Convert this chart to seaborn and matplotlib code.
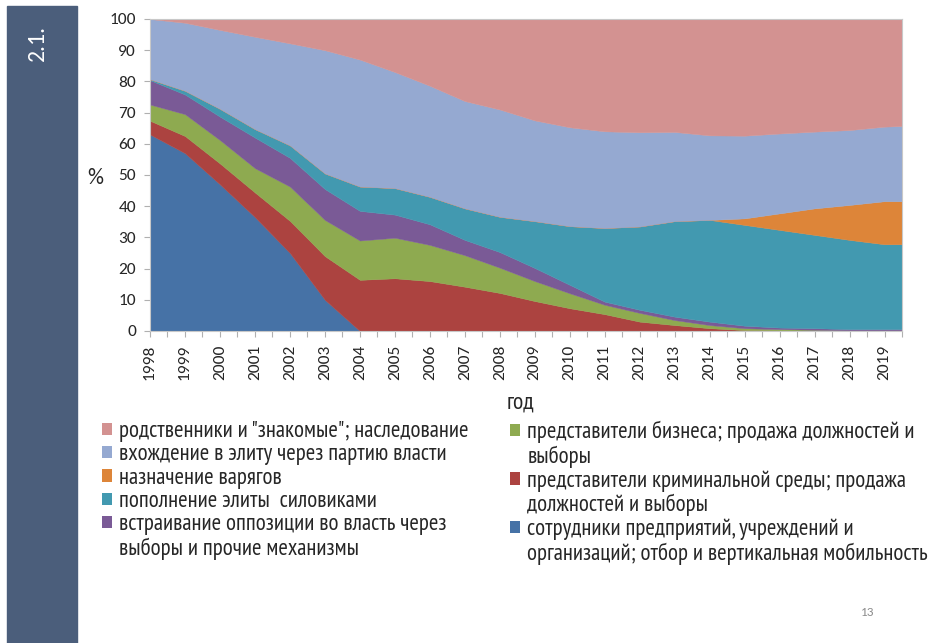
import matplotlib
matplotlib.use("Agg")
import matplotlib.pyplot as plt
from matplotlib.patches import Patch, Rectangle
import pandas as pd
import seaborn as sns

# Years (last point is the mid-2019 edge of the chart)
YEARS = [1998, 1999, 2000, 2001, 2002, 2003, 2004, 2005, 2006, 2007, 2008,
         2009, 2010, 2011, 2012, 2013, 2014, 2015, 2016, 2017, 2018, 2019, 2019.5]

# Shares of each recruitment channel, %, bottom layer first
EMPLOYEES = [63.0, 57.0, 47.0, 36.5, 25.0, 10.0, 0, 0, 0, 0, 0, 0,
             0, 0, 0, 0, 0, 0, 0, 0, 0, 0, 0]
CRIMINAL = [4.4, 5.5, 6.7, 7.9, 10.3, 14.0, 16.4, 16.9, 16.0, 14.2, 12.2, 9.6,
            7.3, 5.4, 3.0, 1.9, 0.9, 0.3, 0.2, 0.1, 0, 0, 0]
BUSINESS = [5.2, 7.0, 7.5, 7.8, 11.0, 11.6, 12.6, 13.0, 11.6, 10.1, 8.1, 6.4,
            4.8, 3.0, 2.8, 1.6, 1.0, 0.6, 0.4, 0.3, 0.2, 0.2, 0.2]
OPPOSITION = [7.8, 6.3, 7.5, 9.8, 9.2, 9.9, 9.5, 7.4, 6.6, 4.9, 5.0, 4.2,
              2.7, 1.0, 1.0, 1.1, 1.1, 0.8, 0.5, 0.5, 0.4, 0.4, 0.4]
SILOVIKI = [0.3, 1.2, 2.5, 2.7, 4.0, 5.0, 7.8, 8.5, 8.8, 10.1, 11.3, 15.0,
            18.8, 23.6, 26.7, 30.6, 32.6, 32.3, 31.3, 29.9, 28.6, 27.2, 27.2]
VARYAGS = [0, 0, 0, 0, 0, 0, 0, 0, 0, 0, 0, 0,
           0, 0, 0, 0, 0, 2.1, 5.3, 8.5, 11.2, 13.8, 13.8]
PARTY = [19.3, 21.8, 25.3, 29.6, 32.7, 39.5, 40.7, 37.2, 35.6, 34.4, 34.4, 32.3,
         31.7, 31.0, 30.2, 28.6, 27.1, 26.5, 25.6, 24.6, 24.0, 23.9, 24.1]
RELATIVES = [0, 1.2, 3.5, 5.7, 7.8, 10.0, 13.0, 17.0, 21.4, 26.3, 29.0, 32.5,
             34.7, 36.0, 36.3, 36.2, 37.3, 37.4, 36.7, 36.1, 35.6, 34.5, 34.3]

SERIES = ["employees", "criminal", "business", "opposition",
          "siloviki", "varyags", "party", "relatives"]
COLORS = {
    "employees": "#4672A6",
    "criminal": "#AC4340",
    "business": "#8EAA50",
    "opposition": "#7A5A96",
    "siloviki": "#4299B0",
    "varyags": "#DD8539",
    "party": "#95A9D1",
    "relatives": "#D39291",
}
# legend lines: (series key or None for a continuation line, text)
LEFT_LEGEND = [
    ("relatives", 'родственники и "знакомые"; наследование'),
    ("party", "вхождение в элиту через партию власти"),
    ("varyags", "назначение варягов"),
    ("siloviki", "пополнение элиты  силовиками"),
    ("opposition", "встраивание оппозиции во власть через"),
    (None, "выборы и прочие механизмы"),
]
RIGHT_LEGEND = [
    ("business", "представители бизнеса; продажа должностей и"),
    (None, "выборы"),
    ("criminal", "представители криминальной среды; продажа"),
    (None, "должностей и выборы"),
    ("employees", "сотрудники предприятий, учреждений и"),
    (None, "организаций; отбор и вертикальная мобильность"),
]

df = pd.DataFrame({
    "employees": EMPLOYEES, "criminal": CRIMINAL, "business": BUSINESS,
    "opposition": OPPOSITION, "siloviki": SILOVIKI, "varyags": VARYAGS,
    "party": PARTY, "relatives": RELATIVES,
}, index=YEARS)

sns.set_theme(style="white")
plt.rcParams["font.family"] = ["Carlito", "DejaVu Sans"]
NARROW = ["PT Sans Narrow", "DejaVu Sans"]
TEXT = "#262626"

fig = plt.figure(figsize=(9.34, 6.43), dpi=100)
ax = fig.add_axes([150 / 934, 1 - 331 / 643, 752 / 934, 312 / 643])

polys = ax.stackplot(df.index, [df[s].to_numpy() for s in SERIES],
                     colors=[COLORS[s] for s in SERIES], linewidth=0)
for p, s in zip(polys, SERIES):
    p.set_edgecolor(COLORS[s])
    p.set_linewidth(0.3)

ax.set_xlim(1998, 2019.5)
ax.set_ylim(0, 100)
ax.set_yticks(range(0, 101, 10))
ax.set_xticks(range(1998, 2020))
ax.set_xticks([y + 0.5 for y in range(1998, 2020)], minor=True)
ax.set_xticklabels([str(y) for y in range(1998, 2020)], rotation=90)
ax.tick_params(axis="both", which="both", direction="out", length=4, width=0.8,
               color="#b0b0b0", labelsize=12.5, labelcolor=TEXT,
               bottom=True, left=True, pad=6)
for sp in ax.spines.values():
    sp.set_color("#c8c8c8")
    sp.set_linewidth(0.8)

ax.set_xlabel("год", fontsize=17, family=NARROW, color=TEXT, va="center")
ax.xaxis.set_label_coords(0.492, -0.231)
ax.set_ylabel("%", fontsize=16, rotation=0, color=TEXT, ha="center", va="center")
ax.yaxis.set_label_coords(-0.073, 0.49)


def make_legend(rows, x):
    handles = [Patch(facecolor=COLORS[k] if k else "none", edgecolor="none")
               for k, _ in rows]
    leg = fig.legend(handles, [t for _, t in rows], loc="upper left",
                     bbox_to_anchor=(x, 1 - 421 / 643), frameon=False,
                     prop={"family": NARROW, "size": 16.5},
                     handlelength=0.45, handleheight=0.45, handletextpad=0.3,
                     labelspacing=0.1, borderpad=0, borderaxespad=0)
    for t in leg.get_texts():
        t.set_color(TEXT)
    return leg


make_legend(LEFT_LEGEND, 102 / 934)
make_legend(RIGHT_LEGEND, 510 / 934)

# left slide bar with section number
fig.add_artist(Rectangle((7 / 934, 0), 70 / 934, 1 - 6 / 643,
                         transform=fig.transFigure, color="#4B5E7B", zorder=0))
fig.text(37 / 934, 1 - 43 / 643, "2.1.", rotation=90, color="white",
         fontsize=17, ha="center", va="center")
fig.text(868 / 934, 1 - 612 / 643, "13", fontsize=9.5, color="#8c8c8c",
         ha="center", va="center")

fig.savefig("out.png", dpi=100)
